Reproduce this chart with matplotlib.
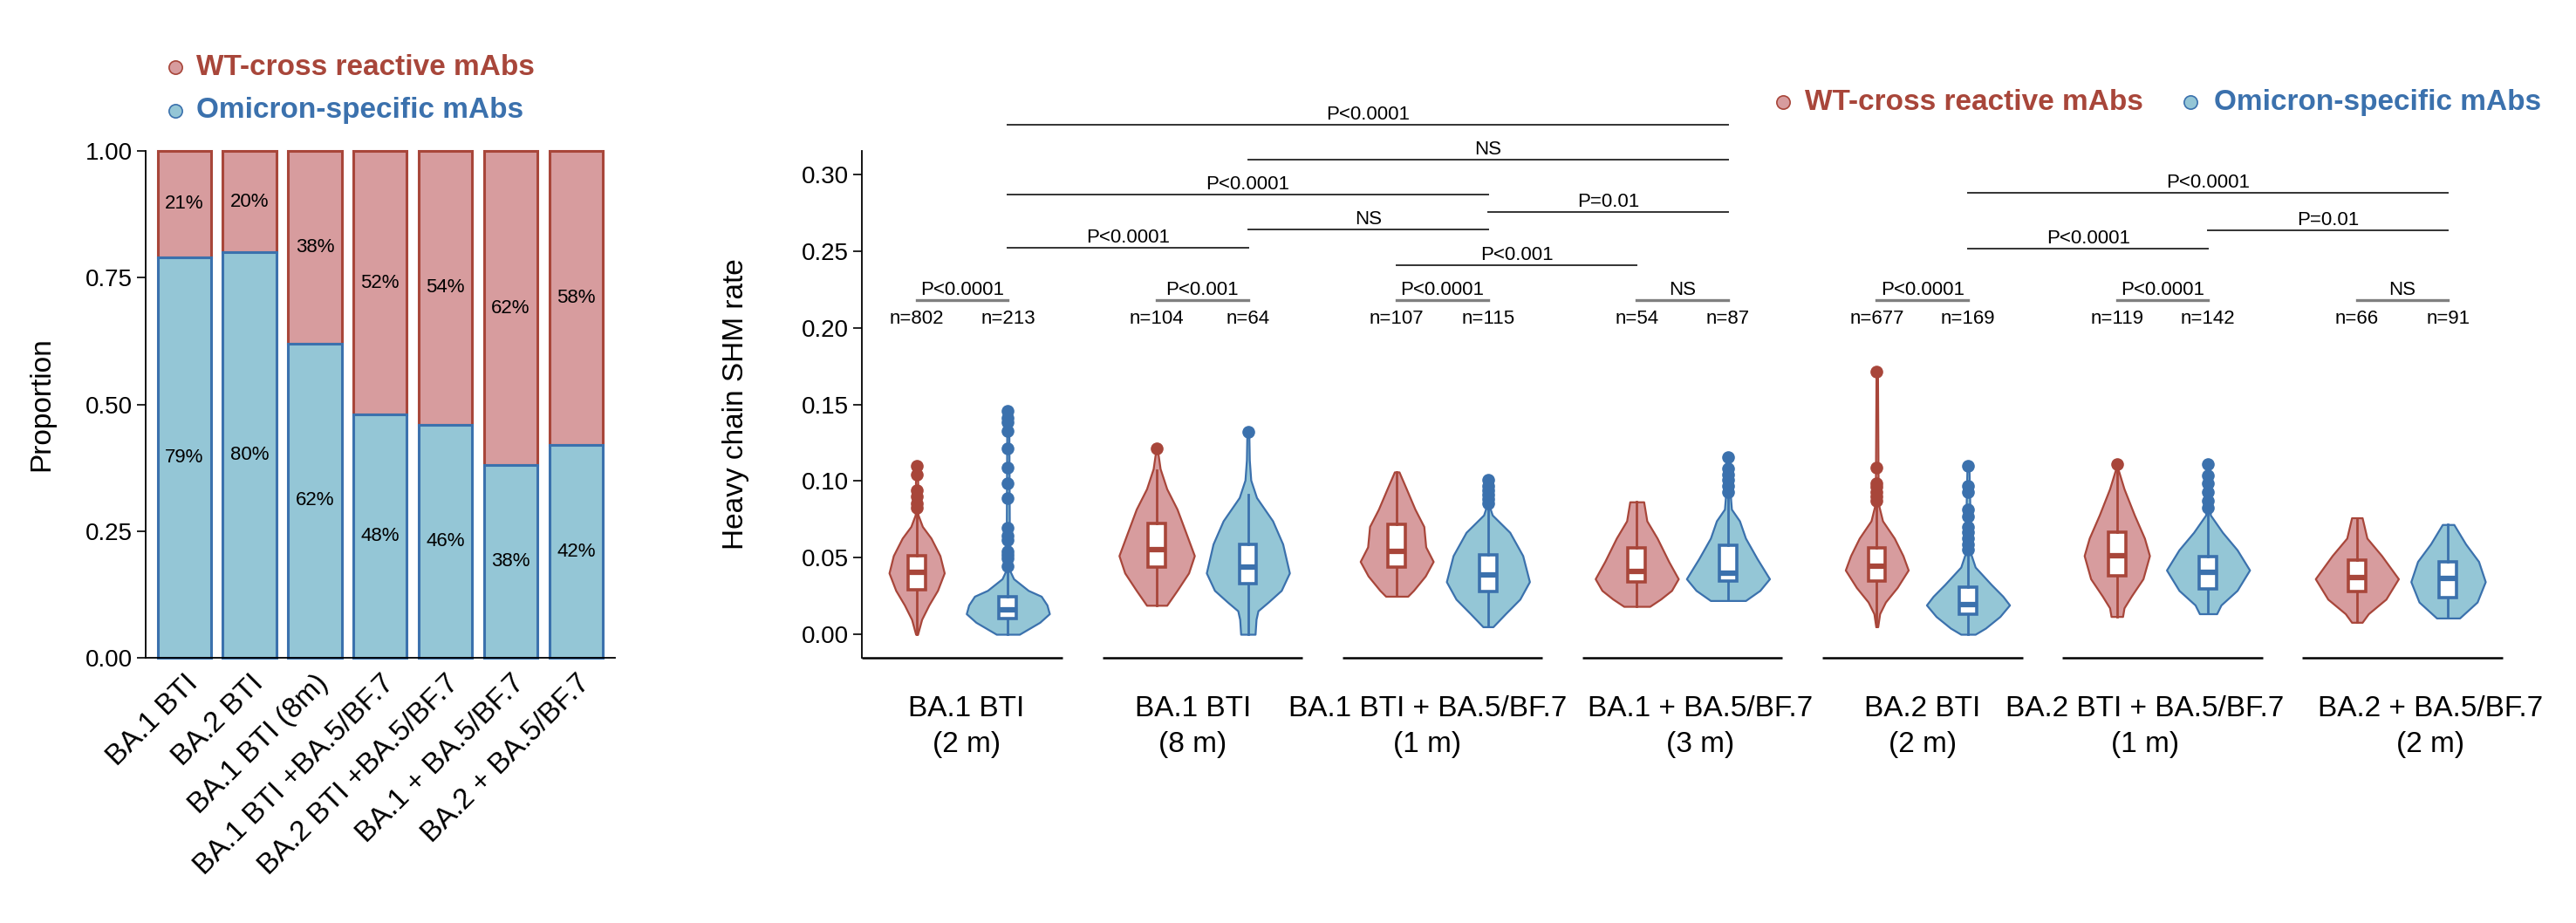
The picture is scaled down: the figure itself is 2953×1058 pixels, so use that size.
import numpy as np
import matplotlib.pyplot as plt
from matplotlib.lines import Line2D

plt.rcParams['font.family'] = ['Liberation Sans', 'DejaVu Sans']

# colours
RED_FILL, RED_EDGE = '#D79C9E', '#A8463A'
BLUE_FILL, BLUE_EDGE = '#94C6D6', '#3B71AD'

# ---------------- left panel: proportions ----------------
bar_groups = ['BA.1 BTI', 'BA.2 BTI', 'BA.1 BTI (8m)', 'BA.1 BTI +BA.5/BF.7',
              'BA.2 BTI +BA.5/BF.7', 'BA.1 + BA.5/BF.7', 'BA.2 + BA.5/BF.7']
omicron_pct = [79, 80, 62, 48, 46, 38, 42]
wt_pct = [21, 20, 38, 52, 54, 62, 58]

# ---------------- right panel: SHM rate ----------------
cohorts = ['BA.1 BTI\n(2 m)', 'BA.1 BTI\n(8 m)', 'BA.1 BTI + BA.5/BF.7\n(1 m)',
           'BA.1 + BA.5/BF.7\n(3 m)', 'BA.2 BTI\n(2 m)', 'BA.2 BTI + BA.5/BF.7\n(1 m)',
           'BA.2 + BA.5/BF.7\n(2 m)']
n_wt = [802, 104, 107, 54, 677, 119, 66]
n_omi = [213, 64, 115, 87, 169, 142, 91]
group_p = ['P<0.0001', 'P<0.001', 'P<0.0001', 'NS', 'P<0.0001', 'P<0.0001', 'NS']

# box stats
wt_q1 = [0.0292, 0.0441, 0.0438, 0.0343, 0.0347, 0.0380, 0.0280]
wt_med = [0.0405, 0.0551, 0.0542, 0.0409, 0.0447, 0.0513, 0.0371]
wt_q3 = [0.0513, 0.0722, 0.0718, 0.0561, 0.0566, 0.0665, 0.0485]
wt_lo = [0.0, 0.0189, 0.0248, 0.0182, 0.0049, 0.0116, 0.0078]
wt_hi = [0.082, 0.107, 0.1059, 0.0864, 0.085, 0.107, 0.076]
omi_q1 = [0.0102, 0.0328, 0.0280, 0.0347, 0.0131, 0.0299, 0.0239]
omi_med = [0.0157, 0.0441, 0.0390, 0.0400, 0.0195, 0.0403, 0.0362]
omi_q3 = [0.0244, 0.0589, 0.0521, 0.0580, 0.0305, 0.0504, 0.0470]
omi_lo = [0.0, 0.0, 0.0049, 0.022, 0.0, 0.0134, 0.0106]
omi_hi = [0.043, 0.091, 0.083, 0.091, 0.052, 0.078, 0.0716]

wt_out = [
    [0.110, 0.1044, 0.094, 0.0902, 0.0854, 0.0826],
    [0.121],
    [],
    [],
    [0.1716, 0.1085, 0.0987, 0.096, 0.093, 0.090, 0.0873],
    [0.111],
    [],
]
omi_out = [
    [0.146, 0.1413, 0.1384, 0.1328, 0.1214, 0.1085, 0.0983, 0.0886, 0.0693,
     0.0646, 0.0615, 0.0542, 0.052, 0.0494, 0.0447],
    [0.1318],
    [0.1006, 0.097, 0.094, 0.0911, 0.088, 0.0854],
    [0.1157, 0.108, 0.1044, 0.1006, 0.097, 0.093],
    [0.1097, 0.0968, 0.093, 0.0816, 0.0769, 0.0703, 0.0665, 0.0627, 0.0589, 0.0551],
    [0.111, 0.1034, 0.0987, 0.093, 0.0873, 0.0826],
    [],
]

# violin outlines (value, half width) bottom -> top
wt_shape = [
    [(0.0, 0.004), (0.0097, 0.021), (0.0191, 0.051), (0.0286, 0.087), (0.040, 0.115),
     (0.0513, 0.097), (0.0627, 0.060), (0.0703, 0.024), (0.0778, 0.006), (0.110, 0.004)],
    [(0.0189, 0.042), (0.0286, 0.085), (0.040, 0.133), (0.0513, 0.157), (0.0665, 0.121),
     (0.0816, 0.085), (0.0949, 0.042), (0.108, 0.0145), (0.1195, 0.004)],
    [(0.0248, 0.046), (0.0286, 0.070), (0.038, 0.119), (0.0475, 0.152), (0.057, 0.121),
     (0.0703, 0.113), (0.0816, 0.076), (0.0949, 0.040), (0.1059, 0.0097)],
    [(0.0182, 0.054), (0.0230, 0.100), (0.0286, 0.145), (0.0362, 0.173), (0.0475, 0.133),
     (0.0627, 0.085), (0.074, 0.042), (0.0864, 0.029)],
    [(0.0049, 0.004), (0.0134, 0.012), (0.021, 0.036), (0.0305, 0.085), (0.0419, 0.131),
     (0.0513, 0.109), (0.0627, 0.073), (0.074, 0.024), (0.0854, 0.006), (0.1716, 0.003)],
    [(0.0116, 0.024), (0.0172, 0.030), (0.0248, 0.060), (0.0362, 0.109), (0.0513, 0.136),
     (0.0627, 0.115), (0.0778, 0.073), (0.0949, 0.030), (0.1072, 0.006), (0.111, 0.004)],
    [(0.0078, 0.022), (0.0134, 0.048), (0.0229, 0.121), (0.0362, 0.173), (0.0513, 0.103),
     (0.0627, 0.042), (0.076, 0.022)],
]
omi_shape = [
    [(0.0, 0.048), (0.0078, 0.133), (0.0134, 0.173), (0.0191, 0.163), (0.0248, 0.139),
     (0.0286, 0.085), (0.0362, 0.024), (0.0419, 0.007), (0.146, 0.004)],
    [(0.0, 0.030), (0.0097, 0.034), (0.0153, 0.042), (0.021, 0.085), (0.0286, 0.139),
     (0.040, 0.173), (0.0589, 0.145), (0.074, 0.103), (0.0892, 0.036), (0.1006, 0.012),
     (0.1138, 0.006), (0.1318, 0.004)],
    [(0.0049, 0.021), (0.0134, 0.073), (0.0229, 0.133), (0.0343, 0.173), (0.0513, 0.145),
     (0.0665, 0.091), (0.0778, 0.018), (0.0835, 0.006), (0.1006, 0.004)],
    [(0.022, 0.073), (0.0286, 0.133), (0.0362, 0.173), (0.0494, 0.121), (0.0627, 0.073),
     (0.074, 0.048), (0.0816, 0.0145), (0.0911, 0.0097), (0.1157, 0.004)],
    [(0.0, 0.030), (0.004, 0.073), (0.0116, 0.133), (0.0191, 0.173), (0.0248, 0.145),
     (0.0324, 0.097), (0.0438, 0.030), (0.0523, 0.012), (0.1097, 0.004)],
    [(0.0134, 0.036), (0.0191, 0.054), (0.0286, 0.121), (0.0419, 0.173), (0.0551, 0.121),
     (0.0665, 0.060), (0.0778, 0.0097), (0.111, 0.004)],
    [(0.0106, 0.048), (0.021, 0.121), (0.0343, 0.155), (0.0475, 0.127), (0.0589, 0.073),
     (0.0716, 0.024)],
]

# comparison brackets between cohorts: (group, series), (group, series), height, label
brackets = [
    ((0, 'omi'), (3, 'omi'), 0.3324, 'P<0.0001'),
    ((1, 'omi'), (3, 'omi'), 0.3097, 'NS'),
    ((0, 'omi'), (2, 'omi'), 0.2869, 'P<0.0001'),
    ((2, 'omi'), (3, 'omi'), 0.2756, 'P=0.01'),
    ((1, 'omi'), (2, 'omi'), 0.2642, 'NS'),
    ((0, 'omi'), (1, 'omi'), 0.2523, 'P<0.0001'),
    ((2, 'wt'), (3, 'wt'), 0.2409, 'P<0.001'),
    ((4, 'omi'), (6, 'omi'), 0.2881, 'P<0.0001'),
    ((5, 'omi'), (6, 'omi'), 0.2636, 'P=0.01'),
    ((4, 'omi'), (5, 'omi'), 0.2517, 'P<0.0001'),
]
group_bracket_y = 0.2182
n_label_y = 0.2057

DODGE = 0.19
# small horizontal nudges of the cohort labels, as placed in the original
label_shift = [0.018, -0.04, -0.062, 0.076, 0.0, -0.073, 0.116]


def xpos(g, s):
    return g - DODGE if s == 'wt' else g + DODGE


fig = plt.figure(figsize=(29.53, 10.58), dpi=100)

# ================= left panel =================
ax1 = fig.add_axes([0.0566, 0.2873, 0.1822, 0.5492])
x = np.arange(len(bar_groups))
omi = np.array(omicron_pct) / 100
wt = np.array(wt_pct) / 100
ax1.bar(x, wt, bottom=omi, width=0.82, color=RED_FILL, edgecolor=RED_EDGE,
        linewidth=2.2, clip_on=False)
ax1.bar(x, omi, width=0.82, color=BLUE_FILL, edgecolor=BLUE_EDGE,
        linewidth=2.2, clip_on=False)
for i in range(len(x)):
    ax1.text(x[i], omi[i] + wt[i] / 2, f'{wt_pct[i]}%', ha='center', va='center', fontsize=16)
    ax1.text(x[i], omi[i] / 2, f'{omicron_pct[i]}%', ha='center', va='center', fontsize=16)

ax1.set_xlim(-0.59, 6.6)
ax1.set_ylim(0, 1)
ax1.set_yticks([0, 0.25, 0.5, 0.75, 1.0])
ax1.set_yticklabels(['0.00', '0.25', '0.50', '0.75', '1.00'], fontsize=20)
ax1.set_xticks(x)
ax1.set_xticklabels(bar_groups, rotation=45, ha='right', rotation_mode='anchor', fontsize=24)
ax1.tick_params(axis='x', length=0, pad=10)
ax1.tick_params(axis='y', length=7, width=1.2, pad=4)
for sp in ['top', 'right']:
    ax1.spines[sp].set_visible(False)
for sp in ['left', 'bottom']:
    ax1.spines[sp].set_linewidth(1.3)
ax1.set_ylabel('Proportion', fontsize=24)
ax1.yaxis.set_label_coords(-0.193, 0.5)

# ================= right panel =================
ax2 = fig.add_axes([0.3346, 0.2873, 0.637, 0.5492])
ax2.set_xlim(-0.418, 6.418)
ax2.set_ylim(-0.01537, 0.31537)

series = [
    ('wt', wt_shape, wt_q1, wt_med, wt_q3, wt_lo, wt_hi, wt_out, RED_FILL, RED_EDGE),
    ('omi', omi_shape, omi_q1, omi_med, omi_q3, omi_lo, omi_hi, omi_out, BLUE_FILL, BLUE_EDGE),
]
for key, shapes, q1, med, q3, lo, hi, outs, fill, edge in series:
    pos = [xpos(g, key) for g in range(len(cohorts))]
    for g, shape in enumerate(shapes):
        ys = np.array([p[0] for p in shape])
        hw = np.array([p[1] for p in shape])
        ax2.fill_betweenx(ys, pos[g] - hw, pos[g] + hw, facecolor=fill, edgecolor=edge,
                          linewidth=1.6, zorder=2)
    stats = []
    for g in range(len(cohorts)):
        stats.append({'med': med[g], 'q1': q1[g], 'q3': q3[g],
                      'whislo': lo[g], 'whishi': hi[g], 'fliers': outs[g]})
    ax2.bxp(stats, positions=pos, widths=0.072, patch_artist=True, showcaps=False,
            manage_ticks=False, zorder=3,
            boxprops=dict(facecolor='white', edgecolor=edge, linewidth=2.6),
            medianprops=dict(color=edge, linewidth=4.5, solid_capstyle='butt'),
            whiskerprops=dict(color=edge, linewidth=2.0),
            flierprops=dict(marker='o', markerfacecolor=edge, markeredgecolor=edge,
                            markersize=9.5))

# broken baseline under each cohort
y0 = ax2.get_ylim()[0]
for g in range(len(cohorts)):
    ax2.plot([g - 0.417, g + 0.417], [y0, y0], color='black', linewidth=1.8,
             clip_on=False, solid_capstyle='butt')

# n labels and within-cohort p values
for g in range(len(cohorts)):
    ax2.text(xpos(g, 'wt'), n_label_y, f'n={n_wt[g]}', ha='center', va='center', fontsize=16)
    ax2.text(xpos(g, 'omi'), n_label_y, f'n={n_omi[g]}', ha='center', va='center', fontsize=16)
    ax2.plot([xpos(g, 'wt'), xpos(g, 'omi')], [group_bracket_y] * 2, color='#808080',
             linewidth=2.4, clip_on=False)
    ax2.text(g, group_bracket_y + 0.0034, group_p[g], ha='center', va='baseline', fontsize=16)

for a, b, yb, lab in brackets:
    xa, xb = xpos(*a), xpos(*b)
    ax2.plot([xa, xb], [yb, yb], color='#333333', linewidth=1.4, clip_on=False)
    ax2.text((xa + xb) / 2, yb + 0.0034, lab, ha='center', va='baseline', fontsize=16)

ax2.set_yticks([0, 0.05, 0.10, 0.15, 0.20, 0.25, 0.30])
ax2.set_yticklabels(['0.00', '0.05', '0.10', '0.15', '0.20', '0.25', '0.30'], fontsize=20)
ax2.set_xticks([g + s for g, s in zip(range(len(cohorts)), label_shift)])
ax2.set_xticklabels(cohorts, fontsize=24)
for lbl in ax2.get_xticklabels():
    lbl.set_linespacing(1.4)
ax2.tick_params(axis='x', length=0, pad=31)
ax2.tick_params(axis='y', length=7, width=1.2, pad=4)
for sp in ['top', 'right', 'bottom']:
    ax2.spines[sp].set_visible(False)
ax2.spines['left'].set_linewidth(1.3)
ax2.set_ylabel('Heavy chain SHM rate', fontsize=24)
ax2.yaxis.set_label_coords(-0.0686, 0.5)

# ================= legends =================
legend_items = [
    (0.0681, 0.0762, 0.9272, 'WT-cross reactive mAbs', RED_FILL, RED_EDGE),
    (0.0681, 0.0762, 0.8800, 'Omicron-specific mAbs', BLUE_FILL, BLUE_EDGE),
    (0.6922, 0.7006, 0.8894, 'WT-cross reactive mAbs', RED_FILL, RED_EDGE),
    (0.8503, 0.8595, 0.8894, 'Omicron-specific mAbs', BLUE_FILL, BLUE_EDGE),
]
for mx, tx, ty, label, fill, edge in legend_items:
    fig.add_artist(Line2D([mx], [ty], transform=fig.transFigure, marker='o', markersize=11,
                          markerfacecolor=fill, markeredgecolor=edge, markeredgewidth=1.2,
                          linestyle='none'))
    fig.text(tx, ty, label, color=edge, fontsize=24, fontweight='bold', va='center', ha='left')

fig.savefig('out.png', dpi=100)
